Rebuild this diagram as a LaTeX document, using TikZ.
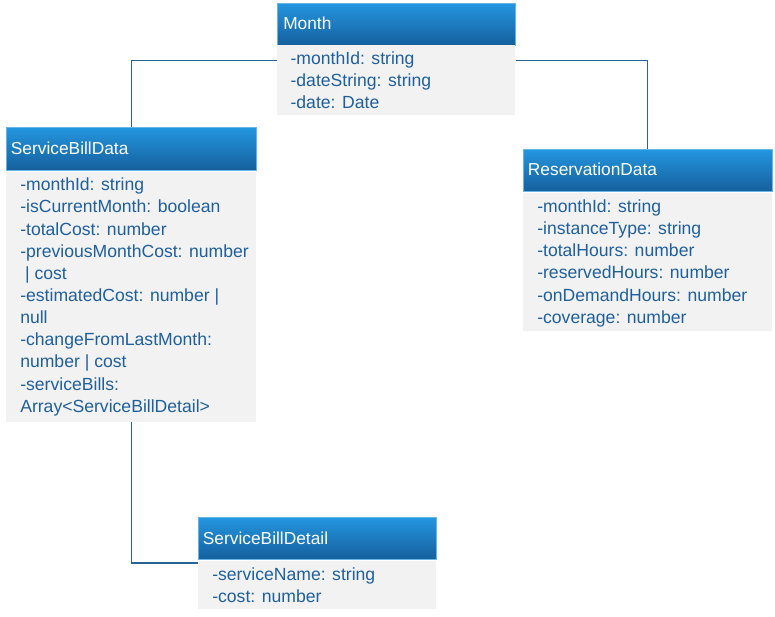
\documentclass[tikz,border=0pt]{standalone}
\usepackage{fontspec}
\setmainfont{Liberation Sans}
\usetikzlibrary{calc}

\definecolor{hdtop}{HTML}{2496E0}
\definecolor{hdbot}{HTML}{15609D}
\definecolor{bodyfill}{HTML}{F2F2F2}
\definecolor{attrtext}{HTML}{1F5F9E}
\definecolor{wire}{HTML}{2A6496}

\tikzset{
  classhead/.style={rectangle, inner sep=0pt, anchor=north west,
    top color=hdtop, bottom color=hdbot, draw=hdtop!70!white, line width=0.5pt,
    minimum height=31.5pt},
  classbody/.style={rectangle, inner sep=0pt, anchor=north west,
    fill=bodyfill},
  headtext/.style={anchor=west, inner sep=0pt, text=white,
    font=\fontsize{13}{15}\selectfont},
  attrs/.style={anchor=west, inner sep=0pt, text=attrtext, align=left,
    font=\fontsize{13.2}{16.6}\selectfont},
  link/.style={draw=wire, line width=0.8pt}
}

\begin{document}
\begin{tikzpicture}[x=0.75pt, y=-0.75pt]
  \useasboundingbox (0,0) rectangle (775,617);

  % Month
  \node[classhead, minimum width=178.5pt] (month) at (277,3) {};
  \node[headtext] (month-t) at ([xshift=4.5pt,yshift=1pt]month.west) {Month};
  \node[classbody, minimum width=178.5pt, minimum height=52.5pt] (month-b) at (277,45) {};
  \node[attrs] (month-a) at ([xshift=10pt]month-b.west) {-monthId: string\\-dateString: string\\-date: Date};

  % ServiceBillData
  \node[classhead, minimum width=187.5pt, minimum height=32pt] (sbd) at (6,127) {};
  \node[headtext] (sbd-t) at ([xshift=3.5pt]sbd.west) {ServiceBillData};
  \node[classbody, minimum width=187.5pt, minimum height=187pt] (sbd-b) at (6,172) {};
  \node[attrs] (sbd-a) at ([xshift=10.5pt]sbd-b.west) {-monthId: string\\-isCurrentMonth: boolean\\-totalCost: number\\-previousMonthCost: number\\\ | cost\\-estimatedCost: number |\\null\\-changeFromLastMonth:\\number | cost\\-serviceBills:\\Array<ServiceBillDetail>};

  % ReservationData
  \node[classhead, minimum width=186.75pt] (res) at (523,149) {};
  \node[headtext] (res-t) at ([xshift=3.5pt,yshift=1pt]res.west) {ReservationData};
  \node[classbody, minimum width=186.75pt, minimum height=103.5pt] (res-b) at (523,193) {};
  \node[attrs] (res-a) at ([xshift=10.5pt,yshift=-0.75pt]res-b.west) {-monthId: string\\-instanceType: string\\-totalHours: number\\-reservedHours: number\\-onDemandHours: number\\-coverage: number};

  % ServiceBillDetail
  \node[classhead, minimum width=178.5pt] (sbdet) at (198,517) {};
  \node[headtext] (sbdet-t) at ([xshift=3.5pt]sbdet.west) {ServiceBillDetail};
  \node[classbody, minimum width=178.5pt, minimum height=36pt] (sbdet-b) at (198,561) {};
  \node[attrs] (sbdet-a) at ([xshift=10.5pt]sbdet-b.west) {-serviceName: string\\-cost: number};

  % associations
  \coordinate (month-l) at ([yshift=-11.5pt]month-b.north west);
  \coordinate (month-r) at ([yshift=-11.5pt]month-b.north east);
  \coordinate (sbdet-l) at ([yshift=-1.5pt]sbdet-b.north west);
  \draw[link] (month-l) -| (sbd.north);
  \draw[link] (month-r) -| (res.north);
  \draw[link] (sbd-b.south) |- (sbdet-l);
\end{tikzpicture}
\end{document}
